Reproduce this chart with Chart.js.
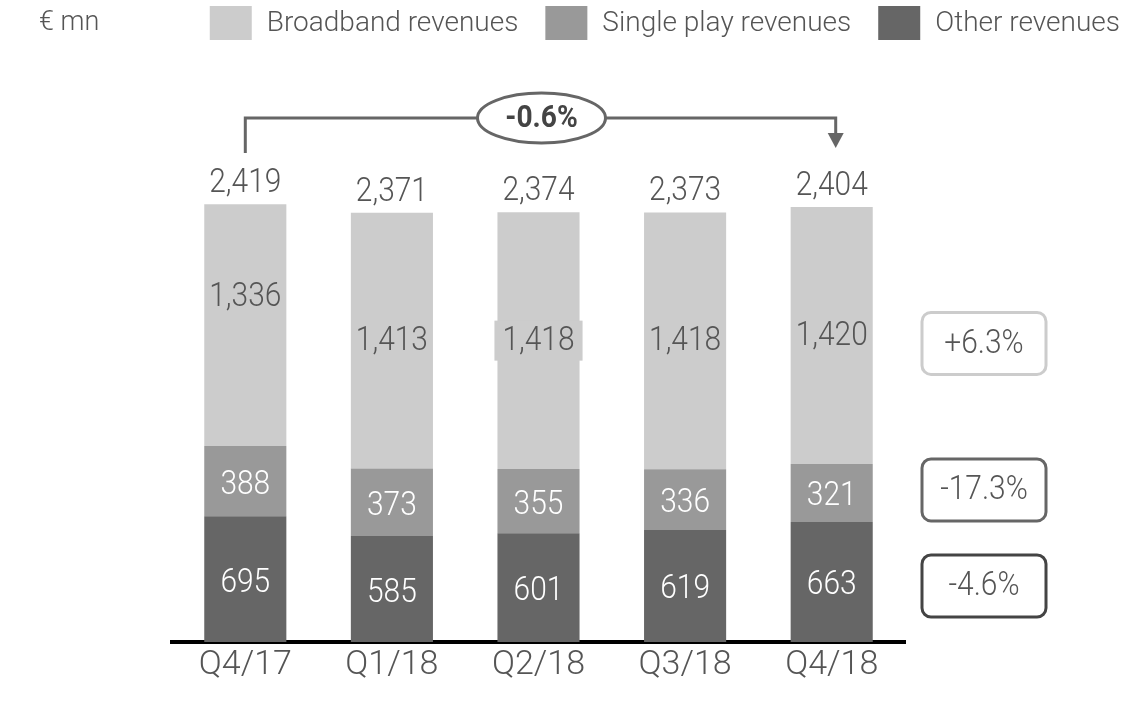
<!DOCTYPE html>
<html><head><meta charset="utf-8">
<script src="https://cdn.jsdelivr.net/npm/chart.js@4.4.1/dist/chart.umd.min.js"></script>
<style>html,body{margin:0;padding:0;background:#fff;overflow:hidden}canvas{display:block}</style>
</head><body>
<canvas id="c" width="1125" height="707"></canvas>
<script>
const categories = ['Q4/17', 'Q1/18', 'Q2/18', 'Q3/18', 'Q4/18'];
const broadband = [1336, 1413, 1418, 1418, 1420];
const singlePlay = [388, 373, 355, 336, 321];
const other = [695, 585, 601, 619, 663];
const totals = [2419, 2371, 2374, 2373, 2404];
const seriesNames = ['Broadband revenues', 'Single play revenues', 'Other revenues'];
const growthLabels = ['+6.3%', '-17.3%', '-4.6%'];
const totalGrowth = '-0.6%';
const unitLabel = '€ mn';

const COLORS = { bb: '#cccccc', sp: '#999999', ot: '#666666' };
const NUM_FONT = "Roboto, 'Liberation Sans', sans-serif";
const TXT_FONT = "Roboto, 'Liberation Sans', sans-serif";
const SX = 0.88;
const fmt = v => v.toLocaleString('en-US');

function narrowText(ctx, txt, x, y, sx) {
  ctx.save();
  ctx.translate(x, y);
  ctx.scale(sx, 1);
  ctx.fillText(txt, 0, 0);
  ctx.restore();
}

const annotatePlugin = {
  id: 'annotate',
  afterDraw(chart) {
    const ctx = chart.ctx;
    const area = chart.chartArea;
    ctx.save();
    // unit label
    ctx.font = `300 27px ${TXT_FONT}`;
    ctx.fillStyle = '#555';
    ctx.textBaseline = 'middle';
    ctx.textAlign = 'left';
    ctx.fillText(unitLabel, 39, 23);

    // legend (right aligned)
    ctx.font = `300 28px ${TXT_FONT}`;
    const legendItems = [
      { name: seriesNames[0], color: COLORS.bb },
      { name: seriesNames[1], color: COLORS.sp },
      { name: seriesNames[2], color: COLORS.ot }
    ];
    let x = 1120;
    const boxW = 42, boxH = 34, gapBT = 15, gapTB = 27;
    const pos = [];
    for (let i = legendItems.length - 1; i >= 0; i--) {
      const w = ctx.measureText(legendItems[i].name).width;
      const tx = x - w;
      const bx = tx - gapBT - boxW;
      pos[i] = { tx, bx };
      x = bx - gapTB;
    }
    legendItems.forEach((it, i) => {
      ctx.fillStyle = it.color;
      ctx.fillRect(pos[i].bx, 6, boxW, boxH);
      ctx.fillStyle = '#555';
      ctx.fillText(it.name, pos[i].tx, 24);
    });

    const metas = [chart.getDatasetMeta(0), chart.getDatasetMeta(1), chart.getDatasetMeta(2)];
    ctx.font = `300 34px ${NUM_FONT}`;
    ctx.textAlign = 'center';
    // segment labels
    metas.forEach((meta, di) => {
      const ds = chart.data.datasets[di];
      meta.data.forEach((bar, i) => {
        let cy = (bar.y + bar.base) / 2;
        if (di === 2 && i === 0) cy -= 29;
        if (di !== 2) cy += 3;
        const txt = fmt(ds.data[i]);
        if (di === 2 && i === 2) {
          const w = ctx.measureText(txt).width * SX;
          ctx.fillStyle = COLORS.bb;
          ctx.fillRect(bar.x - w / 2 - 8, cy - 20, w + 16, 40);
        }
        ctx.fillStyle = di === 2 ? '#555' : '#fff';
        narrowText(ctx, txt, bar.x, cy + 1, SX);
      });
    });
    // totals
    ctx.fillStyle = '#555';
    ctx.textBaseline = 'alphabetic';
    metas[2].data.forEach((bar, i) => {
      narrowText(ctx, fmt(totals[i]), bar.x, bar.y - 12, SX);
    });

    // bracket with arrow
    const first = metas[2].data[0], last = metas[2].data[metas[2].data.length - 1];
    const yH = 118;
    const ax = last.x + 4;
    ctx.strokeStyle = '#666';
    ctx.lineWidth = 3;
    ctx.beginPath();
    ctx.moveTo(first.x, 153);
    ctx.lineTo(first.x, yH);
    ctx.lineTo(ax, yH);
    ctx.lineTo(ax, 134);
    ctx.stroke();
    ctx.fillStyle = '#666';
    ctx.beginPath();
    ctx.moveTo(ax - 8, 133);
    ctx.lineTo(ax + 8, 133);
    ctx.lineTo(ax, 148);
    ctx.closePath();
    ctx.fill();
    // ellipse
    const ex = (first.x + last.x) / 2 + 3;
    ctx.fillStyle = '#fff';
    ctx.beginPath();
    ctx.ellipse(ex, yH, 64, 25, 0, 0, Math.PI * 2);
    ctx.fill();
    ctx.stroke();
    ctx.fillStyle = '#444';
    ctx.font = `bold 32px ${NUM_FONT}`;
    ctx.textBaseline = 'middle';
    narrowText(ctx, totalGrowth, ex, yH + 1, SX);

    // growth boxes aligned with last bar segments
    const boxColors = ['#cccccc', '#666666', '#444444'];
    const segMetas = [metas[2], metas[1], metas[0]];
    const gx = area.right + 79;
    ctx.font = `300 34px ${NUM_FONT}`;
    growthLabels.forEach((g, k) => {
      const bar = segMetas[k].data[segMetas[k].data.length - 1];
      let cy = (bar.y + bar.base) / 2;
      if (k === 0) cy += 8;
      if (k === 1) cy -= 3;
      if (k === 2) cy += 4;
      ctx.strokeStyle = boxColors[k];
      ctx.lineWidth = 3;
      ctx.beginPath();
      ctx.roundRect(gx - 62, cy - 31, 124, 62, 9);
      ctx.stroke();
      ctx.fillStyle = '#555';
      narrowText(ctx, g, gx, cy + 1, SX);
    });
    ctx.restore();
  }
};

new Chart(document.getElementById('c'), {
  type: 'bar',
  data: {
    labels: categories,
    datasets: [
      { label: seriesNames[2], data: other, backgroundColor: COLORS.ot },
      { label: seriesNames[1], data: singlePlay, backgroundColor: COLORS.sp },
      { label: seriesNames[0], data: broadband, backgroundColor: COLORS.bb }
    ]
  },
  options: {
    responsive: false,
    animation: false,
    layout: { padding: { left: 172, right: 220, top: 99, bottom: 21 } },
    plugins: { legend: { display: false }, tooltip: { enabled: false } },
    datasets: { bar: { barPercentage: 0.56, categoryPercentage: 1 } },
    scales: {
      x: {
        stacked: true,
        grid: { display: false, drawTicks: false },
        border: { display: true, color: '#000', width: 4 },
        ticks: { font: { family: NUM_FONT, size: 34, weight: '300' }, color: '#555', padding: 3 },
        afterFit: s => { s.height = 44; }
      },
      y: { stacked: true, display: false, min: 0, max: 3000 }
    }
  },
  plugins: [annotatePlugin]
});
</script>
</body></html>
